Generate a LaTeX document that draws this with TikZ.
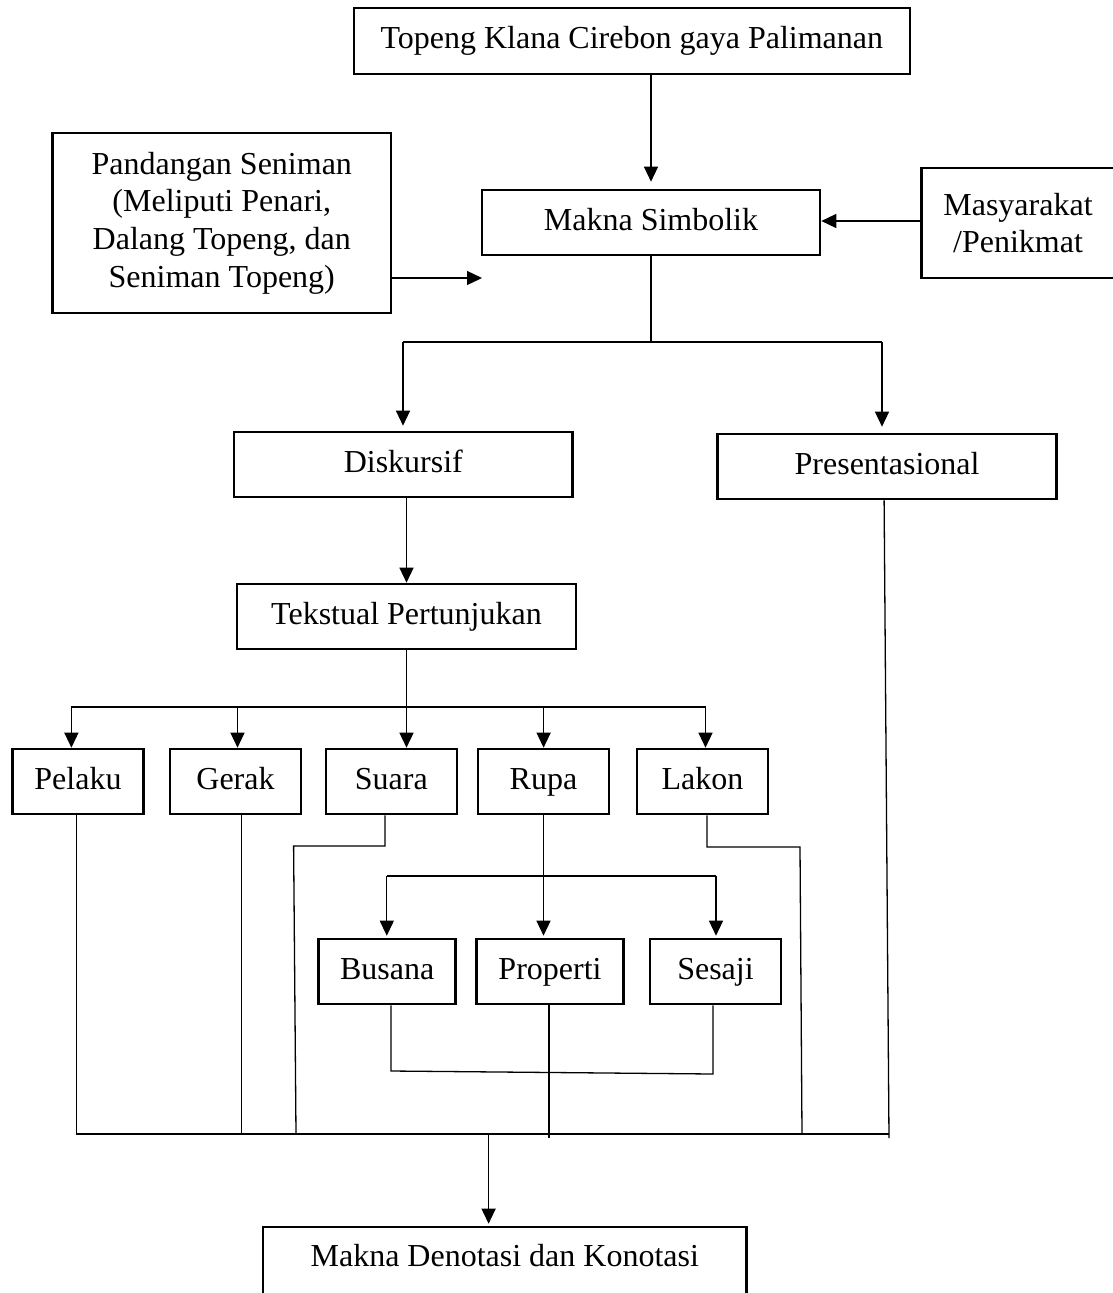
\documentclass[tikz,border=0pt]{standalone}
\usepackage{fontspec}
\setmainfont{Liberation Serif}
\usetikzlibrary{arrows.meta}
\begin{document}
\begin{tikzpicture}[x=1pt,y=-1pt,
  box/.style={draw, line width=2.6pt, rectangle, inner sep=0pt, font=\fontsize{32}{37.7}\selectfont, align=center},
  one/.style={text height=22pt, text depth=7pt},
  small/.style={box, one, minimum width=131pt, minimum height=65pt},
  con/.style={line width=1.3pt},
  arr/.style={con, -{Triangle[length=15pt,width=14pt]}}]
\useasboundingbox (0,0) rectangle (1113,1293);
% nodes
\node[box, one, minimum width=556pt, minimum height=66pt] (top) at (631.8,41) {Topeng Klana Cirebon gaya Palimanan};
\node[box, one, minimum width=338pt, minimum height=65pt] (mak) at (651,222.5) {Makna Simbolik};
\node[box, minimum width=338.5pt, minimum height=180pt] (pan) at (221.75,223) {Pandangan Seniman\\(Meliputi Penari,\\Dalang Topeng, dan\\Seniman Topeng)};
\node[box, minimum width=193pt, minimum height=110pt] (mas) at (1018,223) {Masyarakat\\/Penikmat};
\node[box, one, minimum width=338.6pt, minimum height=65pt] (dis) at (403.3,464.5) {Diskursif};
\node[box, one, minimum width=339pt, minimum height=65pt] (pre) at (887.1,466.5) {Presentasional};
\node[box, one, minimum width=339pt, minimum height=65pt] (tek) at (406.5,616.5) {Tekstual Pertunjukan};
\node[small] (pel) at (78,781.5) {Pelaku};
\node[small] (ger) at (235.5,781.5) {Gerak};
\node[small] (sua) at (391.3,781.5) {Suara};
\node[small] (rup) at (543.5,781.5) {Rupa};
\node[small] (lak) at (702.5,781.5) {Lakon};
\node[small, minimum width=137pt] (bus) at (387.2,971.5) {Busana};
\node[small, minimum width=147pt] (pro) at (550,971.5) {Properti};
\node[small] (ses) at (715.5,971.5) {Sesaji};
\node[box, minimum width=483.6pt, minimum height=100pt, text height=22pt, text depth=44pt] (den) at (504.8,1277) {Makna Denotasi dan Konotasi};
% top connectors
\draw[arr, shorten >=7pt] (mak.north |- top.south) -- (mak.north);
\coordinate (panTip) at (482,278);
\draw[arr] (pan.east |- panTip) -- (panTip);
\coordinate (masY) at (0,221);
\draw[arr] (mas.west |- masY) -- (mak.east |- masY);
\coordinate (s1) at (403,342);
\coordinate (s2) at (882,342);
\draw[con] (mak.south) -- (mak.south |- s1);
\draw[con] (s1) -- (s2);
\draw[arr, shorten >=5pt] (s1) -- (s1 |- dis.north);
\draw[arr, shorten >=6pt] (s2) -- (s2 |- pre.north);
\draw[arr] (dis.south -| tek.north) -- (tek.north);
% first row
\coordinate (r1) at (71.4,707);
\coordinate (r2) at (237.5,707);
\coordinate (r4) at (543.6,707);
\coordinate (r5) at (705.5,707);
\draw[con] (r1) -- (r5);
\draw[arr] (tek.south) -- (tek.south |- sua.north);
\draw[arr] (r1) -- (r1 |- pel.north);
\draw[arr] (r2) -- (r2 |- ger.north);
\draw[arr] (r4) -- (r4 |- rup.north);
\draw[arr] (r5) -- (r5 |- lak.north);
% second row
\coordinate (q1) at (386.8,876);
\coordinate (q3) at (716,876);
\draw[con] (q1) -- (q3);
\draw[arr, shorten >=2pt] (rup.south) -- (rup.south |- pro.north);
\draw[arr, shorten >=2pt] (q1) -- (q1 |- bus.north);
\draw[arr, shorten >=2pt] (q3) -- (q3 |- ses.north);
\coordinate (u1) at (391,1071);
\coordinate (u2) at (713,1074);
\draw[con] (bus.south -| u1) -- (u1) -- (u2) -- (ses.south -| u2);
% bottom collector
\coordinate (w1) at (76.4,1134);
\coordinate (w2) at (889,1134);
\draw[con] (w1) -- (w2);
\draw[con] (pel.south -| w1) -- (w1);
\coordinate (g1) at (241.4,1134);
\draw[con] (ger.south -| g1) -- (g1);
\coordinate (sa) at (385,846);
\coordinate (sb) at (293.6,846);
\coordinate (sc) at (296,1134);
\draw[con] (sua.south -| sa) -- (sa) -- (sb) -- (sc);
\coordinate (la) at (707,847);
\coordinate (lb) at (800,847);
\coordinate (lc) at (802,1134);
\draw[con] (lak.south -| la) -- (la) -- (lb) -- (lc);
\coordinate (pe) at (889,1138);
\draw[con] ([xshift=-3pt]pre.south) -- (pe);
\coordinate (pp) at (549,1138);
\draw[con] (pro.south -| pp) -- (pp);
\coordinate (dd) at (488.6,1134);
\draw[arr, shorten >=2pt] (dd) -- (dd |- den.north);
\end{tikzpicture}
\end{document}
